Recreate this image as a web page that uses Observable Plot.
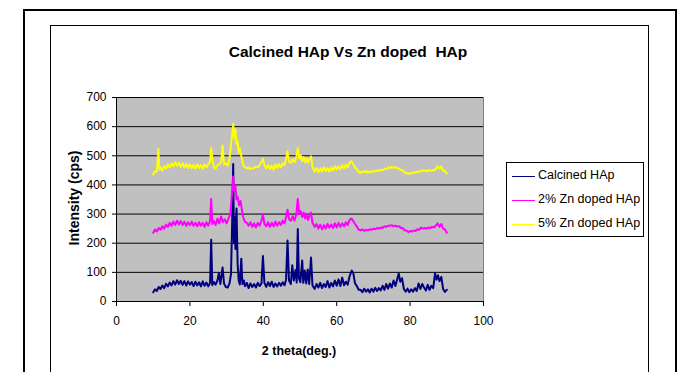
<!DOCTYPE html>
<html>
<head>
<meta charset="utf-8">
<script src="https://cdn.jsdelivr.net/npm/d3@7"></script>
<script src="https://cdn.jsdelivr.net/npm/@observablehq/plot@0.6"></script>
<style>
  html, body { margin: 0; padding: 0; background: #fff; }
  body { width: 688px; height: 372px; position: relative; overflow: hidden; font-family: "Liberation Sans", Arial, sans-serif; }
  #chart { position: absolute; left: 0; top: 0; }
  .frame-outer { position: absolute; left: 23px; top: 9px; width: 650px; height: 400px; border: 2px solid #000; }
  .frame-inner { position: absolute; left: 50px; top: 25px; width: 597px; height: 400px; border: 1px solid #000; }
  .title { position: absolute; left: 4px; width: 688px; top: 43px; text-align: center; font-weight: bold; font-size: 15.5px; white-space: pre; }
  .ylabel { position: absolute; left: 74px; top: 198px; transform: translate(-50%, -50%) rotate(-90deg); font-weight: bold; font-size: 14px; white-space: nowrap; }
  .xlabel { position: absolute; left: 299px; top: 344px; transform: translateX(-50%); font-weight: bold; font-size: 12.5px; white-space: nowrap; }
  .legend { position: absolute; left: 506px; top: 162px; width: 136px; height: 73px; border: 1px solid #000; background: #fff; font-size: 12.5px; }
  .legend .row { position: absolute; left: 0; height: 15px; }
  .legend .sw { position: absolute; left: 5px; top: 8px; width: 23px; height: 0; border-top: 1px solid; }
  .legend .lb { position: absolute; left: 31px; top: 0; white-space: nowrap; line-height: 15px; }
</style>
</head>
<body>
<div class="frame-outer"></div>
<div class="frame-inner"></div>
<div id="chart"></div>
<div class="title">Calcined HAp Vs Zn doped  HAp</div>
<div class="ylabel">Intensity (cps)</div>
<div class="xlabel">2 theta(deg.)</div>
<div class="legend" id="legend"></div>
<script>
// ---- Data ----
const seriesNames = ["Calcined HAp", "2% Zn doped HAp", "5% Zn doped HAp"];
const seriesColors = ["#000080", "#FF00FF", "#FFFF00"];
const xTicks = [0, 20, 40, 60, 80, 100];
const yTicks = [0, 100, 200, 300, 400, 500, 600, 700];

const calcinedTheta = [10,10.5,11,11.5,12,12.5,13,13.5,14,14.5,15,15.5,16,16.5,17,17.5,18,18.5,19,19.5,20,20.5,21,21.5,22,22.5,23,23.5,24,24.5,25,25.5,25.8,26.1,26.5,27,27.5,27.9,28.3,28.9,29.3,29.8,30.3,30.8,31.2,31.5,31.8,32.0,32.2,32.4,32.7,33.0,33.3,33.6,34.0,34.3,34.7,35,35.5,36,36.5,37,37.5,38,38.5,39,39.5,39.9,40.3,40.8,41.3,41.8,42.3,42.8,43.3,43.8,44.3,44.8,45.3,45.8,46.2,46.6,47.0,47.5,47.9,48.3,48.8,49.1,49.4,49.7,50.1,50.6,50.9,51.3,51.7,52.1,52.5,53.0,53.4,54,54.5,55,55.5,56,56.5,57,57.5,58,58.5,59,59.5,60,60.5,61,61.5,62,62.5,63,63.5,64.1,64.5,65,65.5,66,66.5,67,67.5,68,68.5,69,69.5,70,70.5,71,71.5,72,72.5,73,73.5,74,74.5,75,75.5,76,76.5,76.9,77.3,77.8,78.3,78.8,79.3,79.8,80.3,80.8,81.3,81.8,82.3,82.8,83.3,83.8,84.3,84.8,85.3,85.8,86.3,86.8,87.2,87.6,88.0,88.5,89.0,89.5,90];
const calcinedI = [32,42,36,50,43,55,46,61,52,65,55,70,58,73,60,71,57,70,55,69,58,67,53,68,55,66,52,69,54,65,52,64,212,56,67,58,72,98,60,117,62,50,48,62,95,260,472,200,290,180,319,130,72,58,147,60,72,52,64,46,62,50,60,48,64,53,62,156,64,50,66,53,68,50,62,52,64,54,66,56,75,209,72,60,124,72,108,65,249,80,66,141,64,106,62,110,60,151,55,43,60,48,64,46,60,50,70,48,64,52,72,54,76,53,82,56,68,58,86,106,98,62,53,40,40,32,44,34,42,31,44,34,47,36,46,38,54,40,60,44,62,48,72,53,77,96,68,80,43,34,44,32,42,34,46,36,62,43,60,48,38,57,40,54,46,97,75,90,70,84,43,33,40];

const zn2Theta = [10,10.5,11,11.5,12,12.5,13,13.5,14,14.5,15,15.5,16,16.5,17,17.5,18,18.5,19,19.5,20,20.5,21,21.5,22,22.5,23,23.5,24,24.5,25,25.5,25.8,26.1,26.5,27,27.5,28,28.5,29,29.5,30,30.5,31,31.4,31.8,32.1,32.4,32.7,33.0,33.4,33.8,34.1,34.5,35,35.5,36,36.5,37,37.5,38,38.5,39,39.5,39.9,40.3,40.8,41.3,41.8,42.3,42.8,43.3,43.8,44.3,44.8,45.3,45.8,46.2,46.6,47.0,47.5,48,48.5,49.0,49.4,49.8,50.2,50.6,51.0,51.4,51.8,52.2,52.6,53.0,53.4,54,54.5,55,55.5,56,56.5,57,57.5,58,58.5,59,59.5,60,60.5,61,61.5,62,62.5,63,63.5,64,64.5,65,65.5,66,66.5,67,67.5,68,68.5,69,69.5,70,70.5,71,71.5,72,72.5,73,73.5,74,74.5,75,75.5,76,76.5,77,77.5,78,78.5,79,79.5,80,80.5,81,81.5,82,82.5,83,83.5,84,84.5,85,85.5,86,86.5,87,87.5,88,88.5,89,89.5,90];
const zn2I = [236,247,240,252,246,258,250,264,256,270,260,274,263,277,264,276,262,274,260,272,262,274,260,270,258,272,260,270,256,272,260,277,352,266,277,263,284,268,292,273,282,268,284,300,360,429,380,395,350,360,330,345,320,290,273,270,260,272,256,268,254,270,260,277,299,266,258,272,256,270,258,274,260,272,263,277,268,290,315,283,277,292,278,300,352,300,310,290,305,285,298,280,295,305,270,256,266,250,264,248,262,250,266,253,264,252,268,254,270,256,268,258,272,262,280,285,276,266,257,246,244,248,242,246,244,248,246,250,248,252,250,254,252,258,256,260,260,262,258,260,257,258,252,252,244,244,238,242,240,244,242,248,246,254,250,252,250,254,252,256,254,260,268,256,266,250,247,236];

const zn5Theta = [10,10.5,11,11.4,11.7,12,12.5,13,13.5,14,14.5,15,15.5,16,16.5,17,17.5,18,18.5,19,19.5,20,20.5,21,21.5,22,22.5,23,23.5,24,24.5,25,25.5,25.8,26.2,26.6,27,27.5,28,28.5,28.9,29.3,29.8,30.3,30.8,31.2,31.5,31.8,32.1,32.4,32.7,33.0,33.3,33.6,34.0,34.5,35,35.5,36,36.5,37,37.5,38,38.5,39,39.5,39.9,40.3,40.8,41.3,41.8,42.3,42.8,43.3,43.8,44.3,44.8,45.3,45.8,46.2,46.6,47.0,47.5,48,48.5,49.0,49.4,49.8,50.2,50.6,51.0,51.4,51.8,52.2,52.6,53.0,53.4,54,54.5,55,55.5,56,56.5,57,57.5,58,58.5,59,59.5,60,60.5,61,61.5,62,62.5,63,63.5,64,64.5,65,65.5,66,66.5,67,67.5,68,68.5,69,69.5,70,70.5,71,71.5,72,72.5,73,73.5,74,74.5,75,75.5,76,76.5,77,77.5,78,78.5,79,79.5,80,80.5,81,81.5,82,82.5,83,83.5,84,84.5,85,85.5,86,86.5,87,87.5,88,88.5,89,89.5,90];
const zn5I = [436,448,446,524,452,460,450,464,456,470,460,474,464,478,466,476,462,474,460,472,458,470,458,468,456,470,458,468,456,470,460,472,478,527,480,460,456,468,470,480,535,470,474,466,490,540,570,610,560,590,540,550,510,525,500,470,460,457,460,454,458,458,464,460,468,478,491,468,456,468,454,466,453,470,458,472,460,474,468,490,516,480,476,488,478,495,527,490,502,482,496,478,492,476,488,498,462,446,458,444,457,446,460,448,458,446,460,450,464,452,464,454,468,456,470,460,476,481,472,460,454,444,442,446,444,448,442,446,444,448,446,450,448,452,450,456,454,460,457,462,458,461,457,456,450,450,442,442,438,440,440,444,442,446,444,450,448,450,446,452,448,450,450,454,464,456,464,448,448,440];

// ---- Build table ----
const thetas = [calcinedTheta, zn2Theta, zn5Theta];
const intens = [calcinedI, zn2I, zn5I];
const data = [];
seriesNames.forEach((name, s) => {
  thetas[s].forEach((t, i) => data.push({series: name, theta: t, intensity: intens[s][i]}));
});

const chart = Plot.plot({
  width: 688,
  height: 372,
  marginLeft: 116,
  marginRight: 205,
  marginTop: 97,
  marginBottom: 71,
  style: {fontFamily: "'Liberation Sans', Arial, sans-serif", fontSize: "12px", color: "#000", background: "transparent"},
  x: {domain: [0, 100], ticks: xTicks, label: null},
  y: {domain: [0, 700], ticks: yTicks, label: null},
  color: {domain: seriesNames, range: seriesColors},
  marks: [
    Plot.frame({fill: "#C0C0C0", stroke: null}),
    Plot.ruleY(yTicks.slice(1), {stroke: "#000", strokeWidth: 1}),
    Plot.ruleX([100], {stroke: "#808080", strokeWidth: 1}),
    Plot.line(data, {x: "theta", y: "intensity", z: "series", stroke: "series", strokeWidth: 2, curve: "linear"}),
    Plot.ruleX([0], {stroke: "#000", strokeWidth: 1}),
    Plot.ruleY([0], {stroke: "#000", strokeWidth: 1}),
    Plot.axisX({ticks: xTicks, tickSize: 5, tickPadding: 10, label: null, stroke: "#000"}),
    Plot.axisY({ticks: yTicks, tickSize: 4, tickPadding: 6, label: null, stroke: "#000"})
  ]
});
document.getElementById("chart").appendChild(chart);

// legend
const lg = document.getElementById("legend");
seriesNames.forEach((name, i) => {
  const row = document.createElement("div");
  row.className = "row";
  row.style.top = (5 + i * 24) + "px";
  row.innerHTML = `<div class="sw" style="border-color:${seriesColors[i]}"></div><div class="lb">${name}</div>`;
  lg.appendChild(row);
});
</script>
</body>
</html>
